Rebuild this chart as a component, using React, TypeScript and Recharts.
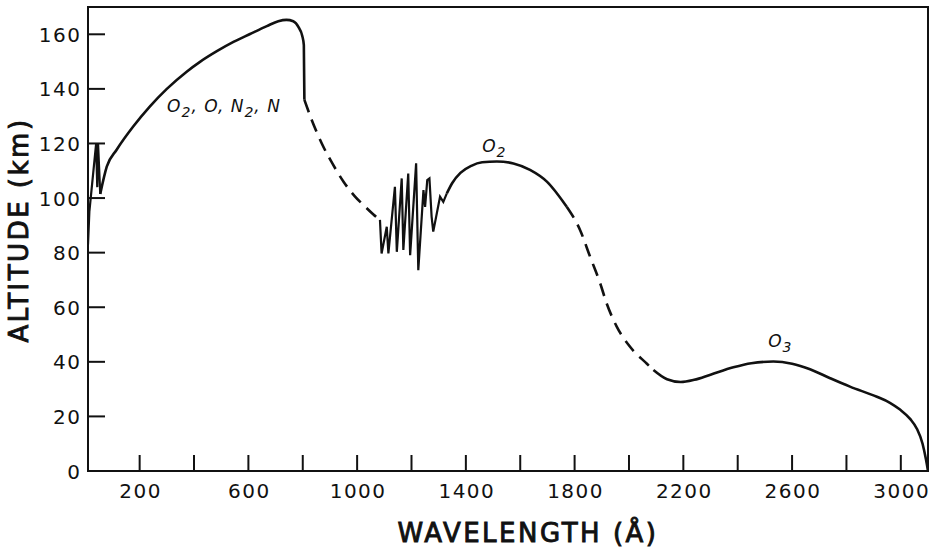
import React from "react"
import {
  LineChart,
  Line,
  XAxis,
  YAxis,
  ReferenceArea,
  ReferenceDot,
} from "recharts"

// [wavelength Å, altitude km], one array per pen stroke
const leftSpikes = [[10, 83], [15, 95], [40, 120], [44, 104], [47, 120], [55, 101.5]]
const upperArc = [
  [55, 101.5], [79, 111.5], [116, 117.8], [177, 126.3], [238, 133.6], [300, 140],
  [373, 146.3], [422, 149.9], [484, 153.8], [545, 157.2], [606, 160.1], [668, 163],
  [710, 164.8], [740, 165.3], [765, 164.8], [785, 162.5], [798, 159.5], [804, 156], [806, 136],
]
const dashedA = [
  [806, 136], [833, 128.6], [870, 120], [910, 112.5], [950, 106], [990, 100.8],
  [1030, 96.8], [1060, 94], [1084, 92],
]
const bandSpikes = [
  [1084, 92], [1090, 79.7], [1109, 89.5], [1115, 79.7], [1139, 104.1], [1146, 80.3],
  [1164, 107.2], [1170, 81], [1188, 109], [1195, 79.1], [1217, 112.7], [1225, 73.6],
  [1244, 102.9], [1250, 96.8], [1258, 106.6], [1266, 107.2], [1274, 93.2], [1280, 87.7],
  [1305, 100.5], [1317, 98.6], [1330, 101.7],
]
const o2Arc = [
  [1330, 101.7], [1350, 105.5], [1380, 109.2], [1420, 111.8], [1460, 113.1], [1514, 113.4],
  [1575, 112.7], [1636, 110.3], [1698, 106], [1771, 96.8],
]
const dashedB = [
  [1771, 96.8], [1820, 88.3], [1857, 78.5], [1894, 68.8], [1918, 61.4], [1955, 52.9],
  [2004, 45.5], [2066, 39.3], [2090, 37],
]
const o3Arc = [
  [2090, 37], [2140, 33.6], [2190, 32.6], [2240, 33.4], [2300, 35.3], [2384, 38],
  [2450, 39.5], [2531, 40.1], [2600, 39.3], [2666, 37.3], [2740, 34], [2813, 30.9],
  [2912, 27.2], [2960, 25], [2997, 22.5], [3035, 19], [3059, 15.5], [3080, 10],
  [3093, 4], [3100, 0],
]

const xTicks = [200, 400, 600, 800, 1000, 1200, 1400, 1600, 1800, 2000, 2200, 2400, 2600, 2800, 3000]
const xLabelled = [200, 600, 1000, 1400, 1800, 2200, 2600, 3000]
const yTicks = [0, 20, 40, 60, 80, 100, 120, 140, 160]

const toRows = (seg: number[][]) => seg.map(([wl, alt]) => ({ wl, alt }))

const FONT = "'DejaVu Sans', sans-serif"
const INK = "#111"

function XTick(props: any) {
  const { x, y, payload } = props
  return (
    <g>
      <line x1={x} x2={x} y1={y} y2={y - 16} stroke={INK} strokeWidth={2} />
      {xLabelled.includes(payload.value) && (
        <text x={x + 1} y={y + 27} textAnchor="middle" fontFamily={FONT} fontSize={20} letterSpacing={1.5} fill={INK}>
          {payload.value}
        </text>
      )}
    </g>
  )
}

function YTick(props: any) {
  const { x, y, payload } = props
  return (
    <g>
      {payload.value !== 0 && <line x1={x} x2={x + 17} y1={y} y2={y} stroke={INK} strokeWidth={2} />}
      <text x={x - 6.5} y={y + 7.5} textAnchor="end" fontFamily={FONT} fontSize={20} letterSpacing={1.5} fill={INK}>
        {payload.value}
      </text>
    </g>
  )
}

const titleStyle = {
  fontFamily: FONT,
  fontSize: 26,
  letterSpacing: 2.5,
  fill: INK,
  stroke: INK,
  strokeWidth: 0.9,
}

function XTitle(props: any) {
  const { x, y, width, height } = props.viewBox
  return (
    <text x={x + width / 2 + 20} y={y + height - 6} textAnchor="middle" {...titleStyle}>
      WAVELENGTH (Å)
    </text>
  )
}

function YTitle(props: any) {
  const { x, y, height } = props.viewBox
  return (
    <text transform={`translate(${x + 28},${y + height / 2 - 9}) rotate(-90)`} textAnchor="middle" {...titleStyle}>
      ALTITUDE (km)
    </text>
  )
}

// species names, drawn in italic with subscripts
function Species({ cx, cy, parts }: any) {
  return (
    <text x={cx} y={cy} fontFamily={FONT} fontStyle="italic" fontSize={17} letterSpacing={1} fill={INK}>
      {parts.map((p: string, i: number) =>
        /^\d$/.test(p) ? (
          <tspan key={i} fontSize={14} dy={5}>{p}</tspan>
        ) : (
          <tspan key={i} dy={i > 0 && /^\d$/.test(parts[i - 1]) ? -5 : 0}>{p}</tspan>
        )
      )}
    </text>
  )
}

const solid = { type: "monotone" as const, dataKey: "alt", stroke: INK, strokeWidth: 2.6, dot: false, isAnimationActive: false }
const dashed = { ...solid, strokeDasharray: "13 8" }

export default function App() {
  return (
    <div style={{ position: "absolute", left: 0, top: 0, background: "#fff" }}>
      <LineChart width={934} height={548} margin={{ top: 7, right: 6, bottom: 0, left: 0 }}>
        <XAxis
          type="number"
          dataKey="wl"
          domain={[10, 3100]}
          ticks={xTicks}
          interval={0}
          allowDataOverflow
          axisLine={false}
          tickLine={false}
          tickSize={0}
          tickMargin={0}
          height={77}
          tick={<XTick />}
          label={<XTitle />}
        />
        <YAxis
          type="number"
          dataKey="alt"
          domain={[0, 170]}
          ticks={yTicks}
          interval={0}
          allowDataOverflow
          axisLine={false}
          tickLine={false}
          tickSize={0}
          tickMargin={0}
          width={88}
          tick={<YTick />}
          label={<YTitle />}
        />
        <ReferenceArea x1={10} x2={3100} y1={0} y2={170} fill="none" stroke={INK} strokeWidth={2} />
        <Line data={toRows(leftSpikes)} {...solid} type="linear" strokeWidth={2.2} />
        <Line data={toRows(upperArc)} {...solid} />
        <Line data={toRows(dashedA)} {...dashed} />
        <Line data={toRows(bandSpikes)} {...solid} type="linear" strokeWidth={2.2} />
        <Line data={toRows(o2Arc)} {...solid} />
        <Line data={toRows(dashedB)} {...dashed} />
        <Line data={toRows(o3Arc)} {...solid} />
        <ReferenceDot x={301} y={131.7} r={0} shape={(p: any) => <Species {...p} parts={["O", "2", ", O, N", "2", ", N"]} />} />
        <ReferenceDot x={1460} y={116.8} r={0} shape={(p: any) => <Species {...p} parts={["O", "2"]} />} />
        <ReferenceDot x={2512} y={45.4} r={0} shape={(p: any) => <Species {...p} parts={["O", "3"]} />} />
      </LineChart>
    </div>
  )
}
